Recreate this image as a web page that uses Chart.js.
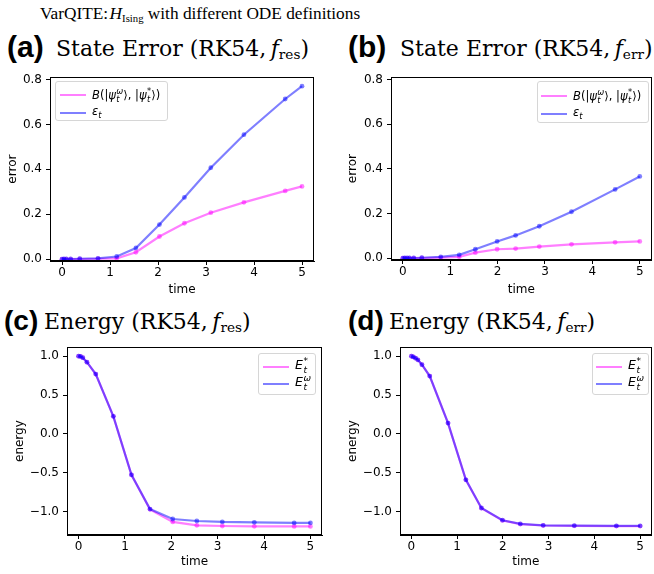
<!DOCTYPE html>
<html>
<head>
<meta charset="utf-8">
<script src="https://cdn.jsdelivr.net/npm/chart.js@4.4.0/dist/chart.umd.min.js"></script>
<style>
  body { margin: 0; width: 654px; height: 574px; background: #fff; position: relative; overflow: hidden; }
  canvas { position: absolute; }
  .t { position: absolute; white-space: nowrap; line-height: 1; color: #000; }
  .main { font-family: "Liberation Serif", serif; font-size: 17.3px; }
  .pt { font-family: "DejaVu Serif", serif; font-size: 22px; }
  .t sub { font-size: 0.62em; vertical-align: -0.25em; }
  .lbl { font-family: "Liberation Sans", sans-serif; font-weight: bold; font-size: 30px; }
  .lbl.sm { font-size: 28px; }
  .leg { position: absolute; box-sizing: border-box; background: rgba(255,255,255,0.8); border: 1px solid #d6d6d6; border-radius: 3px; font-family: "DejaVu Sans", sans-serif; font-size: 11.5px; color: #000; }
  .leg .ln { position: absolute; height: 2px; width: 26px; }
  .leg .tx { position: absolute; white-space: nowrap; line-height: 1; }
  .leg .big { font-size: 12.5px; }
  .ss { display: inline-block; vertical-align: middle; font-size: 0.72em; line-height: 0.95; margin-left: 0.5px; }
  .ss span { display: block; }
</style>
</head>
<body>
<div class="t main" style="left:40px;top:5px">VarQITE:&#8202;<i>H</i><sub>Ising</sub> with different ODE definitions</div>
<div class="t lbl" style="left:7px;top:32px">(a)</div>
<div class="t pt" style="left:56px;top:38px">State Error (RK54,&#8201;<i>f</i><sub>res</sub>)</div>
<div class="t lbl" style="left:348px;top:32px">(b)</div>
<div class="t pt" style="left:400px;top:38px">State Error (RK54,&#8201;<i>f</i><sub>err</sub>)</div>
<div class="t lbl sm" style="left:4px;top:307px">(c)</div>
<div class="t pt" style="left:44px;top:311px">Energy (RK54,&#8201;<i>f</i><sub>res</sub>)</div>
<div class="t lbl sm" style="left:348px;top:307px">(d)</div>
<div class="t pt" style="left:389px;top:311px">Energy (RK54,&#8201;<i>f</i><sub>err</sub>)</div>

<canvas id="cA" width="330" height="234" style="left:0px;top:66px"></canvas>
<canvas id="cB" width="314" height="234" style="left:340px;top:66px"></canvas>
<canvas id="cC" width="330" height="238" style="left:0px;top:336px"></canvas>
<canvas id="cD" width="314" height="238" style="left:340px;top:336px"></canvas>

<script>
// time grids (adaptive RK54 steps)
const timeRes = [0, 0.04, 0.09, 0.18, 0.37, 0.75, 1.14, 1.54, 2.03, 2.55, 3.1, 3.79, 4.65, 5.0];
const timeErr = [0, 0.04, 0.09, 0.14, 0.23, 0.4, 0.8, 1.19, 1.53, 1.99, 2.38, 2.88, 3.56, 4.48, 5.0];

// (a) state error, f_res
const bureqA = [0, 0, 0, 0, 0.001, 0.002, 0.004, 0.031, 0.101, 0.16, 0.207, 0.253, 0.304, 0.324];
const epsA = [0, 0.001, 0.001, 0.001, 0.002, 0.004, 0.012, 0.05, 0.154, 0.275, 0.407, 0.554, 0.713, 0.77];
// (b) state error, f_err
const bureqB = [0, 0, 0, 0, 0, 0.001, 0.003, 0.006, 0.025, 0.04, 0.043, 0.052, 0.062, 0.071, 0.075];
const epsB = [0, 0.001, 0.001, 0.001, 0.001, 0.002, 0.006, 0.015, 0.04, 0.075, 0.102, 0.143, 0.208, 0.308, 0.366];
// (c) energy, f_res
const eStarC = [1.0, 0.996, 0.98, 0.923, 0.77, 0.226, -0.526, -0.97, -1.132, -1.175, -1.184, -1.188, -1.19, -1.19];
const eOmegaC = [1.0, 0.996, 0.98, 0.923, 0.77, 0.226, -0.526, -0.966, -1.094, -1.12, -1.132, -1.137, -1.145, -1.145];
// (d) energy, f_err
const eStarD = [1.0, 0.99, 0.974, 0.953, 0.89, 0.744, 0.139, -0.59, -0.955, -1.112, -1.16, -1.178, -1.182, -1.185, -1.185];
const eOmegaD = [1.0, 0.99, 0.974, 0.953, 0.89, 0.744, 0.139, -0.59, -0.953, -1.11, -1.157, -1.175, -1.18, -1.183, -1.183];

// tick labels
const xTicks = [0, 1, 2, 3, 4, 5];
const errorTicks = [0, 0.2, 0.4, 0.6, 0.8];
const energyTicks = [-1.0, -0.5, 0.0, 0.5, 1.0];

const PINK = 'rgba(255, 0, 255, 0.5)';
const BLUE = 'rgba(0, 0, 255, 0.5)';
const tickFont = { family: 'DejaVu Sans', size: 12, lineHeight: 1.2 };

const frame = {
  id: 'frame',
  afterDraw(chart) {
    const { ctx, chartArea: a } = chart;
    ctx.save();
    ctx.strokeStyle = '#000';
    ctx.lineWidth = 1;
    ctx.strokeRect(Math.round(a.left) + 0.5, Math.round(a.top) + 0.5,
      Math.round(a.right - a.left) - 1, Math.round(a.bottom - a.top) - 1);
    ctx.restore();
  }
};

function pts(xs, ys) {
  return xs.map((x, i) => ({ x: x, y: ys[i] }));
}

function fmt(v) {
  return v.toFixed(1).replace('-', '\u2212');
}

function makePanel(id, box, area, xs, pinkY, blueY, yTicks, yMin, yMax, yTitle, yTitlePad, xTitlePad) {
  const yWidth = area.l - box.left;
  const xHeight = box.top + box.h - area.b;
  new Chart(document.getElementById(id), {
    type: 'line',
    data: {
      datasets: [
        { data: pts(xs, pinkY), borderColor: PINK, backgroundColor: PINK, order: 1 },
        { data: pts(xs, blueY), borderColor: BLUE, backgroundColor: BLUE, order: 0 }
      ]
    },
    options: {
      responsive: false,
      animation: false,
      events: [],
      devicePixelRatio: 1,
      layout: { padding: { left: 0, top: area.t - box.top, right: box.left + box.w - area.r, bottom: 0 } },
      elements: {
        line: { borderWidth: 2.2, tension: 0 },
        point: { radius: 2.4, borderWidth: 0, hoverRadius: 0 }
      },
      plugins: { legend: { display: false }, tooltip: { enabled: false } },
      scales: {
        x: {
          type: 'linear', min: -0.25, max: 5.25,
          afterBuildTicks: s => { s.ticks = xTicks.map(v => ({ value: v })); },
          afterFit: s => { s.height = xHeight; },
          grid: { drawOnChartArea: false, drawTicks: true, tickLength: 4, tickColor: '#000' },
          border: { display: true, color: '#000' },
          ticks: { font: tickFont, color: '#000', padding: 1, maxRotation: 0, callback: v => String(v) },
          title: { display: true, text: 'time', font: tickFont, color: '#000', padding: { top: 0, bottom: xTitlePad } }
        },
        y: {
          type: 'linear', min: yMin, max: yMax,
          afterBuildTicks: s => { s.ticks = yTicks.map(v => ({ value: v })); },
          afterFit: s => { s.width = yWidth; },
          grid: { drawOnChartArea: false, drawTicks: true, tickLength: 4, tickColor: '#000' },
          border: { display: true, color: '#000' },
          ticks: { font: tickFont, color: '#000', padding: 4, callback: v => fmt(v) },
          title: { display: true, text: yTitle, font: tickFont, color: '#000', padding: { top: yTitlePad, bottom: 0 } }
        }
      }
    },
    plugins: [frame]
  });
}

makePanel('cA', { left: 0, top: 66, w: 330, h: 234 }, { l: 50, t: 77, r: 314, b: 261 },
  timeRes, bureqA, epsA, errorTicks, -0.008, 0.81, 'error', 6, 2.8);
makePanel('cB', { left: 340, top: 66, w: 314, h: 234 }, { l: 391, t: 77, r: 653, b: 260 },
  timeErr, bureqB, epsB, errorTicks, -0.008, 0.81, 'error', 6, 2.8);
makePanel('cC', { left: 0, top: 336, w: 330, h: 238 }, { l: 67, t: 347, r: 322, b: 535 },
  timeRes, eStarC, eOmegaC, energyTicks, -1.30, 1.115, 'energy', 12.8, 4.8);
makePanel('cD', { left: 340, top: 336, w: 314, h: 238 }, { l: 400, t: 346, r: 653, b: 535 },
  timeErr, eStarD, eOmegaD, energyTicks, -1.30, 1.115, 'energy', 5.8, 4.8);
</script>

<!-- legends -->
<div class="leg" style="left:55px;top:81px;width:113px;height:40px">
  <div class="ln" style="left:4px;top:12px;background:rgba(255,0,255,0.5)"></div>
  <div class="tx" style="left:36px;top:6px"><i>B</i>(|<i>ψ</i><span class="ss"><span><i>ω</i></span><span><i>t</i></span></span>⟩, |<i>ψ</i><span class="ss"><span>*</span><span><i>t</i></span></span>⟩)</div>
  <div class="ln" style="left:4px;top:30px;background:rgba(0,0,255,0.5)"></div>
  <div class="tx" style="left:36px;top:24px"><i>ε</i><sub style="font-size:0.72em"><i>t</i></sub></div>
</div>
<div class="leg" style="left:537px;top:81px;width:112px;height:42px">
  <div class="ln" style="left:3px;top:13px;background:rgba(255,0,255,0.5)"></div>
  <div class="tx" style="left:35px;top:7px"><i>B</i>(|<i>ψ</i><span class="ss"><span><i>ω</i></span><span><i>t</i></span></span>⟩, |<i>ψ</i><span class="ss"><span>*</span><span><i>t</i></span></span>⟩)</div>
  <div class="ln" style="left:3px;top:31px;background:rgba(0,0,255,0.5)"></div>
  <div class="tx" style="left:35px;top:25px"><i>ε</i><sub style="font-size:0.72em"><i>t</i></sub></div>
</div>
<div class="leg" style="left:258px;top:353px;width:58px;height:42px">
  <div class="ln" style="left:4px;top:12px;background:rgba(255,0,255,0.5)"></div>
  <div class="tx big" style="left:36px;top:3px"><i>E</i><span class="ss"><span>*</span><span><i>t</i></span></span></div>
  <div class="ln" style="left:4px;top:29px;background:rgba(0,0,255,0.5)"></div>
  <div class="tx big" style="left:36px;top:20px"><i>E</i><span class="ss"><span><i>ω</i></span><span><i>t</i></span></span></div>
</div>
<div class="leg" style="left:592px;top:353px;width:57px;height:42px">
  <div class="ln" style="left:3px;top:12px;background:rgba(255,0,255,0.5)"></div>
  <div class="tx big" style="left:35px;top:3px"><i>E</i><span class="ss"><span>*</span><span><i>t</i></span></span></div>
  <div class="ln" style="left:3px;top:29px;background:rgba(0,0,255,0.5)"></div>
  <div class="tx big" style="left:35px;top:20px"><i>E</i><span class="ss"><span><i>ω</i></span><span><i>t</i></span></span></div>
</div>
</body>
</html>
